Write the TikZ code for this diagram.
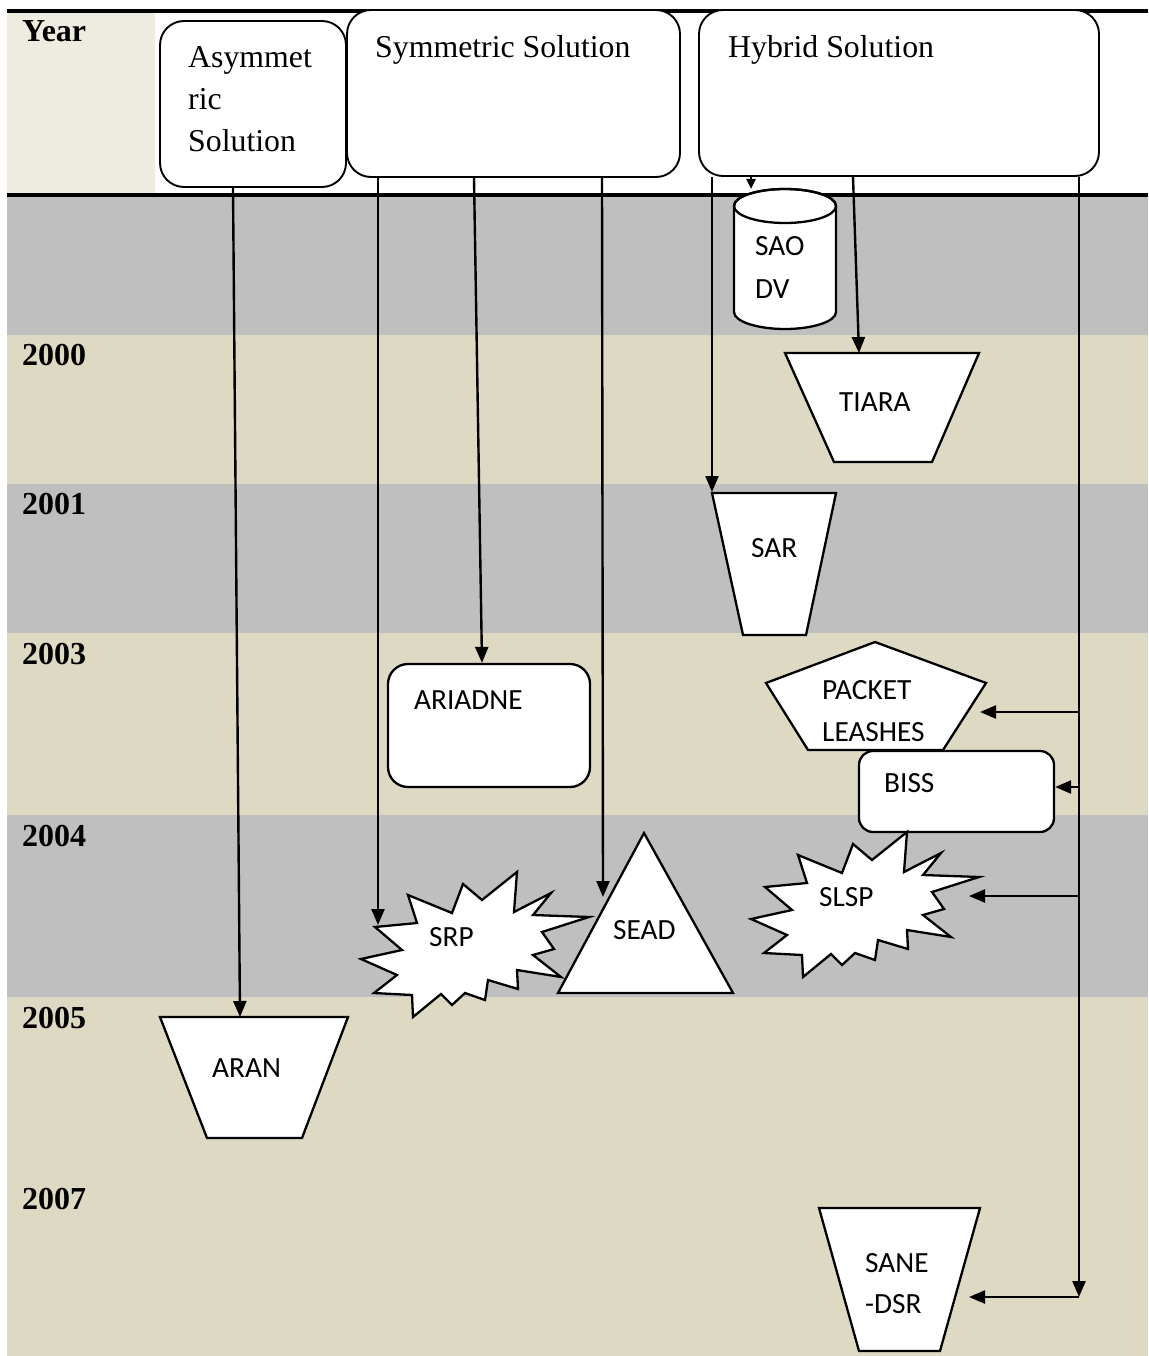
\documentclass[tikz,border=0pt]{standalone}
\usepackage{fontspec}
\setmainfont{Liberation Serif}
\newfontfamily\calibri{Carlito}
\usetikzlibrary{arrows.meta}
\definecolor{bandgray}{HTML}{BFBFBF}
\definecolor{bandtan}{HTML}{DDD9C3}
\definecolor{headtan}{HTML}{EEECE1}

% outline of the explosion shape (SRP); reused shifted for SLSP
\newcommand\burstpath{(375,927) -- (417,923) -- (408,895) -- (452,913) -- (463,884) -- (482,900) -- (517,872) -- (514,912) -- (551,893) -- (533,915) -- (589,917) -- (542,932) -- (554,949) -- (533,955) -- (561,977) -- (517,970) -- (518,989) -- (488,980) -- (485,1000) -- (465,993) -- (452,1005) -- (441,994) -- (413,1017) -- (412,995) -- (374,993) -- (397,975) -- (361,959) -- (402,950) -- cycle}

\begin{document}
\begin{tikzpicture}[x=1pt,y=-1pt,
  yearlabel/.style={anchor=base west, inner sep=0, font=\fontsize{32}{38}\selectfont\bfseries},
  headtext/.style={anchor=base west, inner sep=0, font=\fontsize{31.8}{38}\selectfont},
  itemtext/.style={anchor=base west, inner sep=0, font=\calibri\fontsize{29.3}{35}\selectfont},
  headbox/.style={draw, fill=white, line width=1.9pt, rounded corners=24pt, inner sep=0},
  itembox/.style={draw, fill=white, line width=2.3pt, line join=miter},
  conn/.style={line width=2.4pt, -{Triangle[length=16pt,width=13pt]}},
  shortconn/.style={line width=2.4pt, -{Triangle[length=10pt,width=9pt]}},
  rule/.style={line width=3.8pt}
]
\useasboundingbox (0,0) rectangle (1148,1356);

% year bands
\fill[bandgray] (7,196) rectangle (1148,335);
\fill[bandtan]  (7,335) rectangle (1148,484);
\fill[bandgray] (7,484) rectangle (1148,633);
\fill[bandtan]  (7,633) rectangle (1148,815);
\fill[bandgray] (7,815) rectangle (1148,997);
\fill[bandtan]  (7,997) rectangle (1148,1356);
\fill[headtan]  (7,12) rectangle (155,193);
\draw[rule] (7,11) -- (1148,11);
\draw[rule] (7,195) -- (1148,195);

% year labels
\node[yearlabel] (yYear) at (22,42) {Year};
\node[yearlabel] (y2000) at (22,365) {2000};
\node[yearlabel] (y2001) at (22,514) {2001};
\node[yearlabel] (y2003) at (22,664) {2003};
\node[yearlabel] (y2004) at (22,846) {2004};
\node[yearlabel] (y2005) at (22,1028) {2005};
\node[yearlabel] (y2007) at (22,1209) {2007};

% column headers
\node[headbox, minimum width=186pt, minimum height=166pt] (asym) at (253,104) {};
\node[headbox, minimum width=333pt, minimum height=167pt] (sym) at (513.5,93.5) {};
\node[headbox, minimum width=400pt, minimum height=166pt] (hyb) at (899,93) {};
\node[headtext] (asymA) at (188,68) {Asymmet};
\node[headtext] (asymB) at (188,110) {ric};
\node[headtext] (asymC) at (188,152) {Solution};
\node[headtext] (symT) at (375,58) {Symmetric Solution};
\node[headtext] (hybT) at (728,58) {Hybrid Solution};

% SAODV cylinder
\draw[itembox] (734,206) -- (734,312) arc[start angle=180, end angle=0, x radius=51, y radius=17] -- (836,206) arc[start angle=0, end angle=-180, x radius=51, y radius=17] -- cycle;
\draw[itembox, fill=none] (785,206) ellipse[x radius=51, y radius=17];
\node[itemtext] (saodvA) at (755,255) {SAO};
\node[itemtext] (saodvB) at (755,298) {DV};

% TIARA
\draw[itembox] (785,353) -- (979,353) -- (932,462) -- (834,462) -- cycle;
\node[itemtext] (tiara) at (839,411) {TIARA};

% SAR
\draw[itembox] (712,493) -- (836,493) -- (806,635) -- (743,635) -- cycle;
\node[itemtext] (sar) at (751,557) {SAR};

% ARIADNE
\node[itembox, rounded corners=20pt, minimum width=202pt, minimum height=123pt] (ariadne) at (489,725.5) {};
\node[itemtext] (ariadneT) at (414,709) {ARIADNE};

% PACKET LEASHES
\draw[itembox] (875,642) -- (986,683) -- (943,750) -- (808,750) -- (766,683) -- cycle;
\node[itemtext] (plA) at (822,699) {PACKET};
\node[itemtext] (plB) at (822,741) {LEASHES};

% BISS
\node[itembox, rounded corners=14pt, minimum width=195pt, minimum height=81pt] (biss) at (956.5,791.5) {};
\node[itemtext] (bissT) at (884,792) {BISS};

% SRP and SLSP
\draw[itembox] \burstpath;
\node[itemtext] (srp) at (429,946) {SRP};
\begin{scope}[shift={(390,-40)}]
  \draw[itembox] \burstpath;
\end{scope}
\node[itemtext] (slsp) at (819,906) {SLSP};

% SEAD
\draw[itembox] (644,833) -- (733,993) -- (558,993) -- cycle;
\node[itemtext] (sead) at (613,939) {SEAD};

% ARAN
\draw[itembox] (160,1017) -- (348,1017) -- (302,1138) -- (207,1138) -- cycle;
\node[itemtext] (aran) at (212,1077) {ARAN};

% SANE-DSR
\draw[itembox] (819,1208) -- (980,1208) -- (940,1351) -- (859,1351) -- cycle;
\node[itemtext] (saneA) at (865,1272) {SANE};
\node[itemtext] (saneB) at (865,1313) {-DSR};

% connector end points
\coordinate (aranIn) at (240,1017);
\coordinate (srpIn) at (378,925);
\coordinate (seadIn) at (603,897);
\coordinate (sarIn) at (712,492);
\coordinate (saodvIn) at (751,189);
\coordinate (tiaraIn) at (859,353);
\coordinate (trunkEnd) at (1079,1297);
\coordinate (jPL) at (1079,712);
\coordinate (jBISS) at (1079,787);
\coordinate (jSLSP) at (1079,896);
\coordinate (plIn) at (980,712);
\coordinate (slspIn) at (969,896);
\coordinate (saneIn) at (969,1297);

% connectors
\draw[conn] ([xshift=-20pt]asym.south) -- (aranIn);
\draw[conn] ([xshift=-135.5pt]sym.south) -- (srpIn);
\draw[conn] ([xshift=-39.5pt]sym.south) -- ([xshift=-7pt]ariadne.north);
\draw[conn] ([xshift=88.5pt]sym.south) -- (seadIn);
\draw[conn] ([xshift=-187pt]hyb.south) -- (sarIn);
\draw[shortconn] ([xshift=-148pt]hyb.south) -- (saodvIn);
\draw[conn] ([xshift=-46pt]hyb.south) -- (tiaraIn);
\draw[conn] ([xshift=180pt]hyb.south) -- (trunkEnd);
\draw[conn] (jPL) -- (plIn);
\draw[conn] (jBISS) -- (biss.east |- jBISS);
\draw[conn] (jSLSP) -- (slspIn);
\draw[conn] (trunkEnd) -- (saneIn);
\end{tikzpicture}
\end{document}
